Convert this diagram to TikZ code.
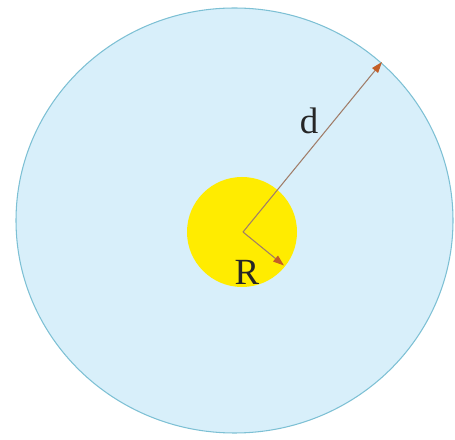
\documentclass[tikz,border=0pt]{standalone}
\usepackage{fontspec}
\setmainfont{Liberation Serif}
\usetikzlibrary{positioning, arrows.meta, calc}

\definecolor{skyfill}{RGB}{216,239,250}
\definecolor{skyline}{RGB}{125,192,212}
\definecolor{sunfill}{RGB}{255,236,0}
\definecolor{radline}{RGB}{160,125,105}
\definecolor{radtip}{RGB}{195,95,40}

\tikzset{
    radius arrow/.style={draw=radline, line width=0.6pt,
        -{Triangle[length=2.2mm, width=1.5mm, color=radtip]}},
    radius label/.style={font=\fontsize{21}{25}\selectfont, text=black!85, inner sep=0pt}
}

\begin{document}
\begin{tikzpicture}

    % ================= frame =================
    \useasboundingbox (0,0) rectangle (9.1,8.78);

    % ================= circles =================
    \draw[fill=skyfill, draw=skyline, line width=0.6pt] (4.69,4.37) ellipse [x radius=4.37, y radius=4.25];
    \fill[sunfill] (4.84,4.14) circle (1.1);

    % ================= points =================
    \coordinate (center) at (4.86,4.14);
    \coordinate (dtip) at (7.64,7.54);
    \coordinate (Rtip) at (5.68,3.47);

    % ================= arrows =================
    \draw[radius arrow] (center) -- (dtip);
    \draw[radius arrow] (center) -- (Rtip);

    % ================= labels =================
    \node[radius label] (dlabel) at (6.18,6.36) {d};
    \node[radius label] (Rlabel) at (4.94,3.34) {R};

\end{tikzpicture}
\end{document}
